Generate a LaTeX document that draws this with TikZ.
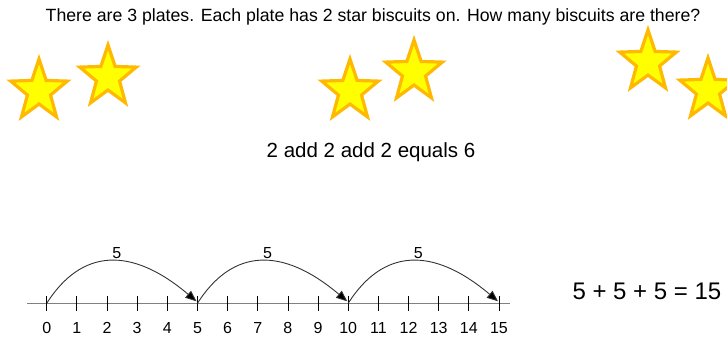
\documentclass[tikz,border=0pt]{standalone}
\usepackage{fontspec}
\setmainfont{Liberation Sans}
\usetikzlibrary{shapes.geometric,arrows.meta}
\definecolor{starfill}{HTML}{FFFF00}
\definecolor{starline}{HTML}{FFB900}
\definecolor{linegray}{HTML}{808080}

\begin{document}
\begin{tikzpicture}[x=1pt,y=-1pt,
    biscuit/.style={star,star points=5,star point ratio=2.45,minimum size=64pt,inner sep=0pt,
      xscale=0.93,fill=starfill,draw=starline,line width=3.2pt},
    jump/.style={draw=black!80,line width=0.9pt,-{Triangle[length=11pt,width=9pt,fill=black]}},
    num/.style={font=\fontsize{16}{16}\selectfont,anchor=base}]
    \useasboundingbox (0,0) rectangle (727,338);
    \node[anchor=base,font=\fontsize{17.7}{18}\selectfont] (q) at (373,21.7)
        {There are 3 plates. Each plate has 2 star biscuits on. How many biscuits are there?};
    % three plates, two biscuits each
    \node[biscuit] (s1) at (39,91) {};
    \node[biscuit] (s2) at (108,77) {};
    \node[biscuit] (s3) at (350,91) {};
    \node[biscuit] (s4) at (414,72) {};
    \node[biscuit] (s5) at (648,62) {};
    \node[biscuit] (s6) at (708,90) {};
    \node[anchor=base,font=\fontsize{20.5}{21}\selectfont] (sum) at (371,157) {2 add 2 add 2 equals 6};
    % number line
    \coordinate (l) at (27,303.3);
    \coordinate (r) at (510,303.3);
    \draw[linegray,line width=1.2pt] (l) -- (r);
    \foreach \i in {0,...,15} {
        \coordinate (t\i) at (46.7+30.15*\i,303.3);
        \draw[line width=0.8pt] (t\i) ++(0,-7.5) -- ++(0,15);
        \node[num] (n\i) at (46.7+30.15*\i,333) {\i};
    }
    \foreach \a/\b in {0/5,5/10,10/15} {
        \draw[jump] (t\a) .. controls +(35,-55) and +(-65,-55) .. ([shift={(-1,-2)}]t\b);
        \node[num] (j\a) at ([shift={(70,-45)}]t\a) {5};
    }
    \node[anchor=base west,font=\fontsize{24}{24}\selectfont] (eq) at (569,299) {5 + 5 + 5 = 15};
\end{tikzpicture}
\end{document}
